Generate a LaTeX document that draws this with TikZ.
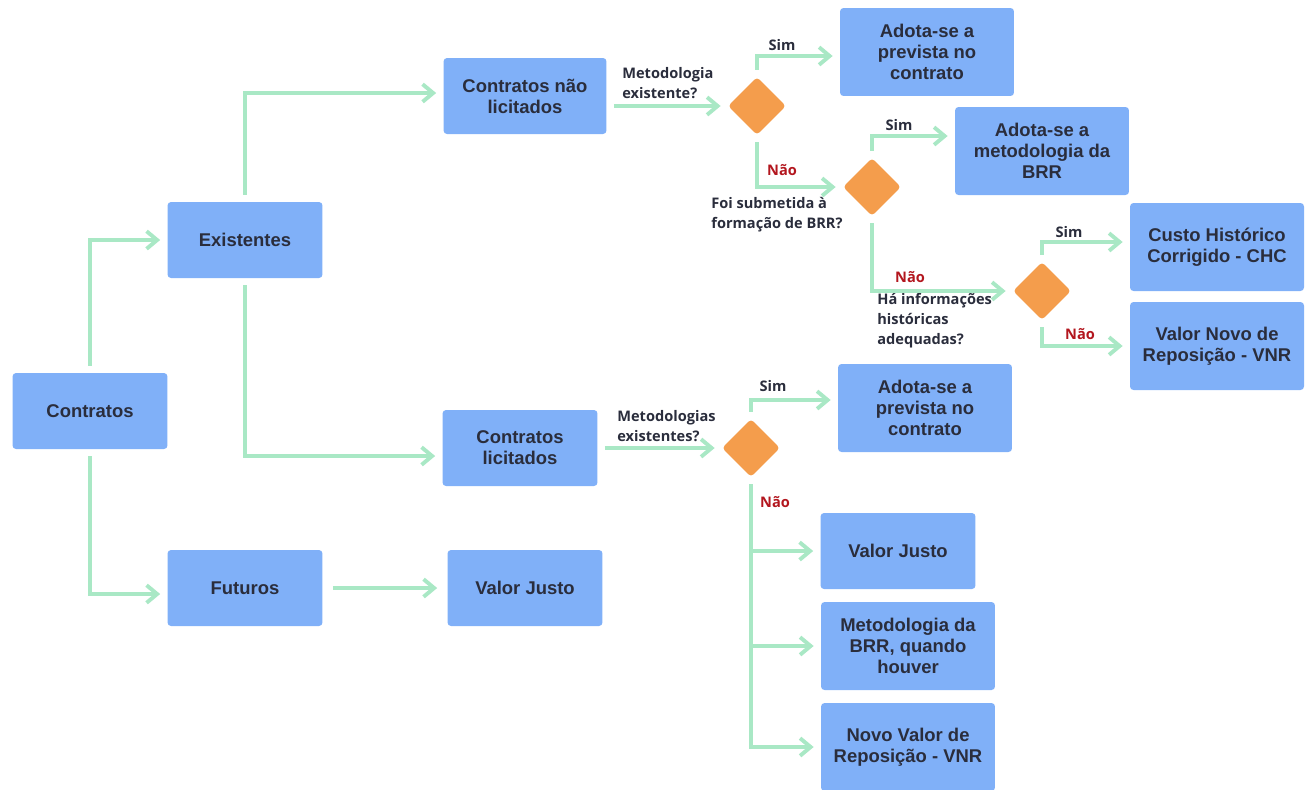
\documentclass[tikz,border=0pt]{standalone}
\usepackage{fontspec}
\setmainfont{Liberation Sans}
\newfontfamily\qfont{Open Sans}
\usetikzlibrary{arrows.meta,shapes.geometric}
\definecolor{boxblue}{HTML}{80B0F8}
\definecolor{decorange}{HTML}{F49D4C}
\definecolor{flowgreen}{HTML}{A9E8C5}
\definecolor{textdark}{HTML}{2A2D3C}
\definecolor{naored}{HTML}{B3161E}
\tikzset{
  box/.style={rectangle, rounded corners=2pt, fill=boxblue, text=textdark,
    font=\bfseries\fontsize{10.5}{12}\selectfont, align=center,
    minimum width=3.1cm, minimum height=1.52cm, inner sep=2pt},
  bigbox/.style={box, minimum width=3.48cm, minimum height=1.76cm},
  decision/.style={diamond, fill=decorange, rounded corners=2pt,
    minimum size=1.16cm, inner sep=0pt},
  flow/.style={draw=flowgreen, line width=2.2pt,
    -{Straight Barb[length=6pt,width=10pt]},
    shorten <=4pt, shorten >=4pt},
  quest/.style={font=\qfont\bfseries\fontsize{8.3}{11.3}\selectfont,
    text=textdark, align=left, inner sep=0pt},
  sim/.style={quest},
  nao/.style={quest, text=naored}
}
\begin{document}
\begin{tikzpicture}[x=0.02cm, y=-0.02cm]
  \useasboundingbox[fill=white] (0,0) rectangle (1311,789);
  % boxes
  \node[box] (contratos) at (90,411) {Contratos};
  \node[box] (existentes) at (245,240) {Existentes};
  \node[box] (futuros) at (245,588) {Futuros};
  \node[box, minimum width=3.26cm] (naolic) at (525,96) {Contratos não\\licitados};
  \node[box] (lic) at (520,448) {Contratos\\licitados};
  \node[box] (vjusto) at (525,588) {Valor Justo};
  \node[bigbox] (adota1) at (927,52) {Adota-se a\\prevista no\\contrato};
  \node[bigbox] (adota2) at (1042,151) {Adota-se a\\metodologia da\\BRR};
  \node[bigbox] (chc) at (1217,247) {Custo Histórico\\Corrigido - CHC};
  \node[bigbox] (vnr) at (1217,346) {Valor Novo de\\Reposição - VNR};
  \node[bigbox] (adota3) at (925,408) {Adota-se a\\prevista no\\contrato};
  \node[box] (vjusto2) at (898,551) {Valor Justo};
  \node[bigbox] (metbrr) at (908,646) {Metodologia da\\BRR, quando\\houver};
  \node[bigbox] (novovnr) at (908,747) {Novo Valor de\\Reposição - VNR};
  % decisions
  \node[decision] (d1) at (757,106) {};
  \node[decision] (d2) at (872,187) {};
  \node[decision] (d3) at (1042,291) {};
  \node[decision] (d4) at (751,448) {};
  % labels
  \node[quest, anchor=north west] (q1) at (622,67) {Metodologia\\existente?};
  \node[quest, anchor=north west] (q2) at (711,197) {Foi submetida à\\formação de BRR?};
  \node[quest, anchor=north west] (q3) at (877,293) {Há informações\\históricas\\adequadas?};
  \node[quest, anchor=north west] (q4) at (617,410) {Metodologias\\existentes?};
  \node[sim] (s1) at (782,45) {Sim};
  \node[nao] (n1) at (782,170) {Não};
  \node[sim] (s2) at (899,125) {Sim};
  \node[nao] (n2) at (910,277) {Não};
  \node[sim] (s3) at (1069,232) {Sim};
  \node[nao] (n3) at (1080,334) {Não};
  \node[sim] (s4) at (773,386) {Sim};
  \node[nao] (n4) at (775,502) {Não};
  % connectors
  \draw[flow] (contratos.north) |- (existentes.west);
  \draw[flow] (contratos.south) |- ([yshift=-0.12cm]futuros.west);
  \draw[flow] (existentes.north) |- ([yshift=0.06cm]naolic.west);
  \draw[flow] (existentes.south) |- ([yshift=-0.16cm]lic.west);
  \draw[flow] ([xshift=0.06cm]futuros.east |- vjusto.west) -- ([xshift=-0.06cm]vjusto.west);
  \draw[flow] (naolic.east |- d1.west) -- (d1.west);
  \draw[flow] (d1.north) |- ([yshift=-0.08cm]adota1.west);
  \draw[flow] (d1.south) |- (d2.west);
  \draw[flow] (d2.north) |- ([yshift=0.3cm]adota2.west);
  \draw[flow] (d2.south) |- (d3.west);
  \draw[flow] (d3.north) |- ([yshift=0.1cm]chc.west);
  \draw[flow] (d3.south) |- (vnr.west);
  \draw[flow] (lic.east) -- (d4.west);
  \draw[flow] (d4.north) |- ([yshift=0.16cm]adota3.west);
  \draw[flow] (d4.south) |- (vjusto2.west);
  \draw[flow] (d4.south) |- (metbrr.west);
  \draw[flow] (d4.south) |- (novovnr.west);
\end{tikzpicture}
\end{document}
